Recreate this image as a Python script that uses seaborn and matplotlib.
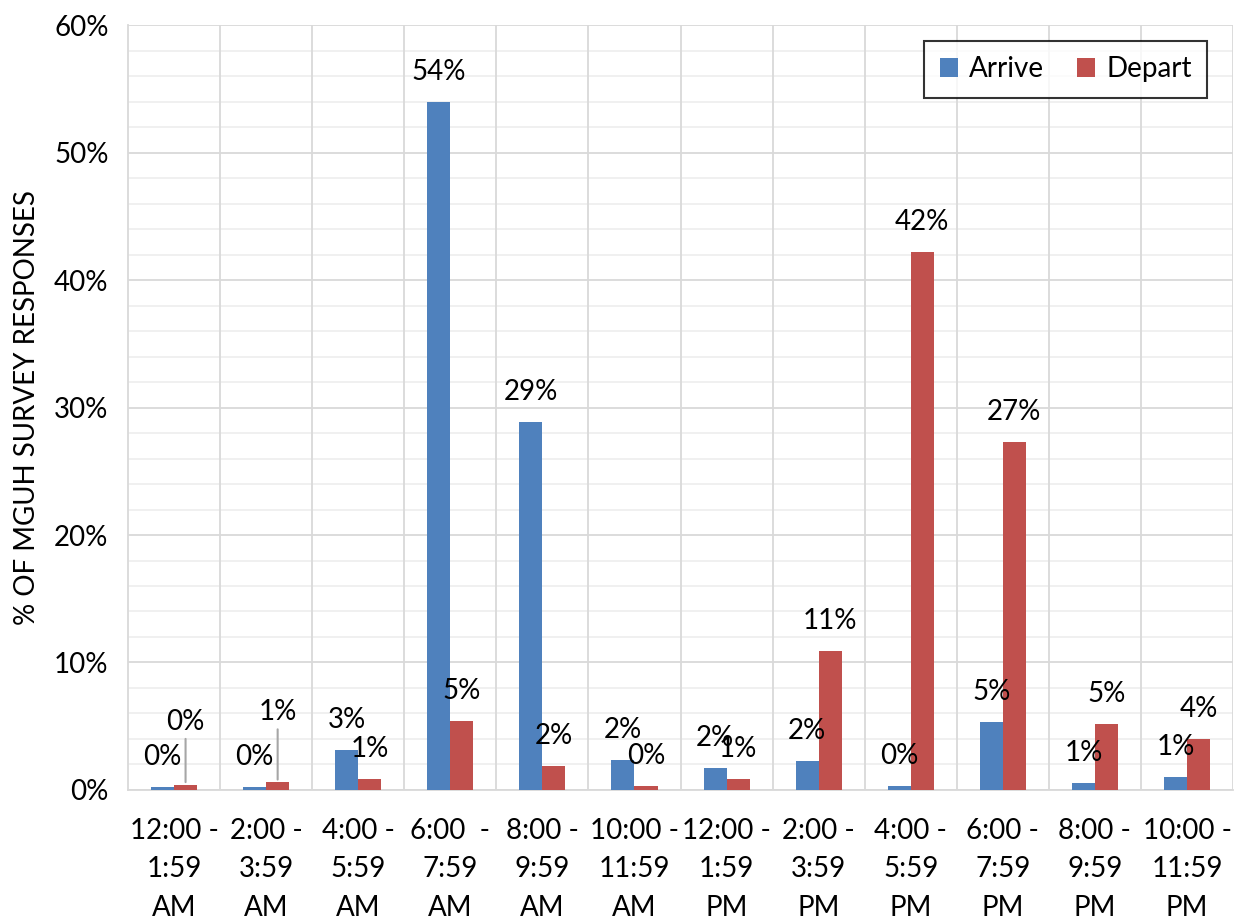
import matplotlib
matplotlib.use("Agg")
import matplotlib.pyplot as plt
from matplotlib.ticker import MultipleLocator, PercentFormatter
import numpy as np
import pandas as pd
import seaborn as sns

# Time windows (two-hour bins) and share of survey responses (%)
periods = [
    "12:00 -\n1:59\nAM", "2:00 -\n3:59\nAM", "4:00 -\n5:59\nAM",
    "6:00  -\n7:59\nAM", "8:00 -\n9:59\nAM", "10:00 -\n11:59\nAM",
    "12:00 -\n1:59\nPM", "2:00 -\n3:59\nPM", "4:00 -\n5:59\nPM",
    "6:00 -\n7:59\nPM", "8:00 -\n9:59\nPM", "10:00 -\n11:59\nPM",
]
arrive = [0.2, 0.25, 3.1, 54.0, 28.9, 2.35, 1.75, 2.3, 0.3, 5.3, 0.55, 1.0]
depart = [0.4, 0.6, 0.9, 5.45, 1.9, 0.3, 0.85, 10.9, 42.2, 27.3, 5.2, 4.0]
series = ["Arrive", "Depart"]
colors = ["#4F81BD", "#C0504D"]

df = pd.DataFrame({
    "period": periods * 2,
    "share": arrive + depart,
    "trip": ["Arrive"] * len(periods) + ["Depart"] * len(periods),
})

sns.set_theme(style="white")
plt.rcParams["font.family"] = ["Lato", "DejaVu Sans"]
plt.rcParams["text.color"] = "black"
plt.rcParams["axes.labelcolor"] = "black"
FS = 20

fig = plt.figure(figsize=(12.38, 9.23), dpi=100)
ax = fig.add_axes([0.1034, 0.1441, 0.996 - 0.1034, 0.9729 - 0.1441])

sns.barplot(data=df, x="period", y="share", hue="trip", hue_order=series,
            palette=colors, width=0.5, gap=0, saturation=1, ax=ax,
            edgecolor="none", linewidth=0, zorder=3)

ax.set_ylim(0, 60)
ax.set_xlim(-0.5, len(periods) - 0.5)
ax.yaxis.set_major_locator(MultipleLocator(10))
ax.yaxis.set_minor_locator(MultipleLocator(2))
ax.yaxis.set_major_formatter(PercentFormatter(decimals=0))

# gridlines: light minor every 2%, major every 10%, vertical category separators
ax.grid(axis="y", which="minor", color="#efefef", linewidth=1.3, zorder=0)
ax.grid(axis="y", which="major", color="#d9d9d9", linewidth=1.3, zorder=0)
for xb in np.arange(0.5, len(periods) - 0.5, 1.0):
    ax.axvline(xb, color="#d9d9d9", linewidth=1.3, zorder=1)
ax.axvline(len(periods) - 0.5, color="#d9d9d9", linewidth=1.3, zorder=1)
ax.set_axisbelow(True)

for name in ["top", "right"]:
    ax.spines[name].set_visible(False)
ax.spines["left"].set_color("#d9d9d9")
ax.spines["left"].set_linewidth(1.3)
ax.spines["bottom"].set_color("#d9d9d9")
ax.spines["bottom"].set_linewidth(1.3)

ax.tick_params(axis="both", which="both", length=0, labelsize=FS, colors="black")
ax.tick_params(axis="x", pad=20)
ax.tick_params(axis="y", pad=14)
for lbl in ax.get_xticklabels():
    lbl.set_linespacing(1.6)

ax.set_xlabel("")
ax.set_ylabel("% OF MGUH SURVEY RESPONSES", fontsize=FS, labelpad=10, color="black")

# value labels above each bar; two tiny night-time departures are lifted with leader lines
lift = {("Depart", 0): 33, ("Depart", 1): 40}
for name, cont in zip(series, ax.containers):
    vals = arrive if name == "Arrive" else depart
    for i, (bar, v) in enumerate(zip(cont, vals)):
        xc = bar.get_x() + bar.get_width() / 2
        extra = lift.get((name, i), 0)
        off = 30 + extra
        ax.annotate(f"{round(v):.0f}%", (xc, v), xytext=(0, off * 0.72),
                    textcoords="offset points", ha="center", va="center",
                    fontsize=FS, color="black", zorder=5)
        if extra:
            ax.annotate("", (xc, v), xytext=(0, (off - 17) * 0.72),
                        textcoords="offset points",
                        arrowprops=dict(arrowstyle="-", color="#a6a6a6", lw=1.5,
                                        shrinkA=0, shrinkB=2))

leg = ax.legend(loc="upper right", bbox_to_anchor=(0.9765, 0.979),
                borderaxespad=0, fontsize=FS,
                frameon=True, fancybox=False, edgecolor="black",
                ncol=2, handlelength=0.65, handleheight=0.65, handletextpad=0.4,
                columnspacing=1.2, borderpad=0.55, title=None)
leg.get_frame().set_linewidth(1.5)
for t in leg.get_texts():
    t.set_color("black")

fig.savefig("out.png", dpi=100, facecolor="white")
